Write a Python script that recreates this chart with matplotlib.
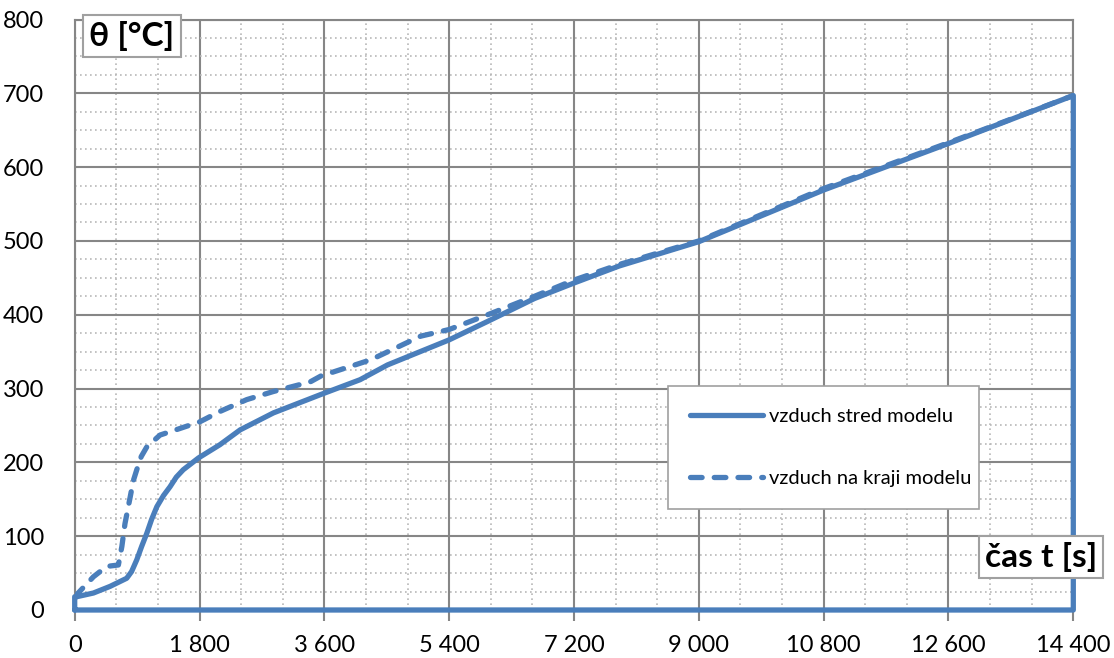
import numpy as np
import matplotlib
matplotlib.use("Agg")
import matplotlib.pyplot as plt
from matplotlib.ticker import MultipleLocator, FuncFormatter

# (t in s, theta in degC)
t_stred = [0, 0, 30, 270, 510, 750, 820, 895, 965, 1040, 1110, 1185, 1280, 1375, 1465, 1565, 1785,
           2095, 2385, 2865, 3550, 4115, 4510, 5400, 5955, 6630, 7200, 7850, 9000, 10800, 12600,
           14400, 14400, 0]
v_stred = [0, 18, 18, 23, 32, 43, 52, 68, 86, 104, 123, 140, 155, 167, 180, 190, 206,
           224, 244, 267, 292, 312, 332, 366, 391, 422, 443, 466, 499, 569, 632,
           697, 0, 0]

t_kraj = [0, 50, 270, 460, 630, 680, 725, 800, 845, 895, 960, 1040, 1230, 1520, 1805, 2095, 2480,
          2865, 3395, 3550, 4270, 4990, 5400, 5955, 6630, 7200, 7850, 9000, 10800, 12600, 14400]
v_kraj = [18, 23, 45, 59, 61, 86, 117, 153, 175, 190, 208, 221, 237, 246, 255, 269, 285,
          296, 309, 317, 339, 371, 380, 400, 425, 447, 468, 500, 571, 633, 697]

labels = ["vzduch stred modelu", "vzduch na kraji modelu"]
x_ticks = np.arange(0, 14401, 1800)
y_ticks = np.arange(0, 801, 100)

blue = "#4a7ebb"
grid_c = "#868686"
plt.rcParams["font.family"] = ["Lato", "DejaVu Sans"]

fig = plt.figure(figsize=(11.14, 6.58), dpi=100)
ax = fig.add_axes([74.7/1114, 1-610/658, (1073.3-74.7)/1114, (610-19.5)/658])

ax.plot(t_stred, v_stred, color=blue, lw=3.8, solid_joinstyle="round", solid_capstyle="round",
        label=labels[0], zorder=4, clip_on=False)
ax.plot(t_kraj, v_kraj, color=blue, lw=3.8, ls=(0, (2.2, 2.3)), dash_capstyle="round",
        label=labels[1], zorder=4)

ax.set_xlim(0, 14400)
ax.set_ylim(0, 800)
ax.set_xticks(x_ticks)
ax.set_yticks(y_ticks)
ax.xaxis.set_minor_locator(MultipleLocator(600))
ax.yaxis.set_minor_locator(MultipleLocator(25))
ax.xaxis.set_major_formatter(FuncFormatter(lambda v, p: f"{int(v):,}".replace(",", " ")))
ax.grid(which="major", color=grid_c, lw=1.5, zorder=1)
ax.grid(which="minor", color="#b8b8b8", lw=1.2, ls=(0, (1, 2)), zorder=0)
for s in ax.spines.values():
    s.set_color(grid_c)
    s.set_linewidth(1.5)
ax.tick_params(axis="x", which="major", length=8, width=1.5, color=grid_c, labelsize=17, pad=10)
ax.tick_params(axis="y", which="major", length=0, labelsize=17, pad=22)
ax.tick_params(which="minor", length=0)

leg = ax.legend(loc="center left", bbox_to_anchor=(0.594, 0.166, 0.312, 0.218), mode="expand",
                borderaxespad=0, fancybox=False, framealpha=1, edgecolor="#a0a0a0",
                fontsize=14.5, handlelength=3.6, handletextpad=0.3, labelspacing=2.2,
                borderpad=1.1)
leg.get_frame().set_linewidth(1.2)
leg.set_zorder(5)

box = dict(boxstyle="square,pad=0.18", fc="white", ec="#a0a0a0", lw=1.5)
fig.text(132/1114, 1-36/658, "θ [°C]", fontsize=24, fontweight="bold", ha="center", va="center",
         bbox=box, zorder=6)
fig.text(1041/1114, 1-557/658, "čas t [s]", fontsize=24, fontweight="bold", ha="center", va="center",
         bbox=box, zorder=6)

fig.savefig("out.png", dpi=100)
